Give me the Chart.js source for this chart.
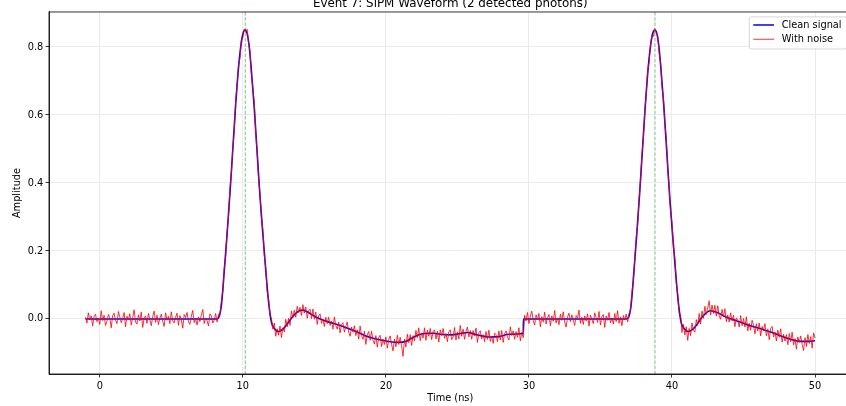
<!DOCTYPE html>
<html lang="en">
<head>
<meta charset="UTF-8">
<title>SiPM Waveform</title>
<script src="https://cdn.jsdelivr.net/npm/chart.js"></script>
<style>
  html, body { margin: 0; padding: 0; background: #fff; overflow: hidden; }
  body { width: 846px; height: 406px; position: relative; }
  /* plot runs a little past the right edge, as in the saved figure */
  .chart-box { position: absolute; left: 0; top: -10px; width: 870px; height: 416px; }
</style>
</head>
<body>
<div class="chart-box"><canvas id="waveChart"></canvas></div>
<script>
const xTicks = [0, 10, 20, 30, 40, 50];
const yTicks = [0, 0.2, 0.4, 0.6, 0.8];
const photonTimes = [10.17, 38.81];

// clean pulse shape (ns, amplitude)
const cleanTime = [
  -1, 8.2, 8.3, 8.5, 8.7, 8.9, 9.1, 9.3, 9.5, 9.7, 9.9, 10.05, 10.17, 10.3, 10.45,
  10.6, 10.8, 11.0, 11.2, 11.4, 11.6, 11.8, 12.0, 12.2, 12.5, 12.8, 13.1, 13.5, 14.0,
  14.2, 14.5, 15.0, 15.5, 16.3, 17.0, 17.8, 18.6, 19.4, 20.3, 20.8, 21.4, 22.1, 22.7,
  23.3, 24.0, 24.6, 25.2, 25.7, 26.4, 27.2, 27.9, 28.6, 29.6, 29.62,
  36.8, 36.94, 37.14, 37.34, 37.54, 37.74, 37.94, 38.14, 38.34, 38.54, 38.69, 38.81,
  38.94, 39.09, 39.24, 39.44, 39.64, 39.84, 40.04, 40.24, 40.44, 40.64, 40.84, 41.14,
  41.44, 41.75, 42.15, 42.7, 43.2, 43.8, 44.5, 45.2, 45.8, 46.5, 47.2, 47.8, 48.4,
  49.0, 49.5, 50.0
];
const cleanAmp = [
  0, 0, 0.003, 0.04, 0.14, 0.25, 0.37, 0.5, 0.63, 0.74, 0.815, 0.845, 0.85, 0.84, 0.8,
  0.73, 0.62, 0.49, 0.36, 0.25, 0.145, 0.05, -0.01, -0.028, -0.037, -0.03, -0.015, 0.008, 0.025,
  0.026, 0.021, 0.008, -0.002, -0.013, -0.022, -0.035, -0.05, -0.06, -0.067, -0.069, -0.066, -0.05, -0.043,
  -0.042, -0.046, -0.047, -0.043, -0.04, -0.047, -0.053, -0.052, -0.045, -0.043, 0,
  0, 0.003, 0.04, 0.14, 0.25, 0.37, 0.5, 0.63, 0.74, 0.815, 0.845, 0.85,
  0.84, 0.8, 0.73, 0.62, 0.49, 0.36, 0.25, 0.145, 0.05, -0.01, -0.028, -0.037,
  -0.031, -0.016, 0.008, 0.024, 0.018, 0.005, -0.005, -0.016, -0.024, -0.033, -0.043, -0.053, -0.061,
  -0.066, -0.066, -0.064
];

// noisy samples, one every 0.1 ns starting at -1 ns
const noiseStart = -1.0;
const noiseStep = 0.1;
const noisyAmp = [
  // -1.0 .. 8.2 ns: baseline
  0.005, -0.012, 0.018, -0.003, 0.009, -0.021, 0.007, 0.014, -0.008, 0.002,
  -0.016, 0.024, -0.005, 0.011, -0.019, -0.007, 0.013, 0.003, -0.026, 0.010,
  0.017, -0.004, -0.014, 0.022, 0.006, -0.011, 0.001, 0.019, -0.023, 0.008,
  -0.002, 0.015, -0.018, 0.004, 0.027, -0.009, -0.015, 0.012, -0.006, 0.020,
  -0.025, 0.003, 0.009, -0.013, 0.016, -0.001, -0.020, 0.007, 0.023, -0.010,
  0.011, -0.017, 0.002, 0.014, -0.007, -0.022, 0.018, -0.004, 0.008, -0.014,
  0.021, -0.006, -0.012, 0.005, 0.017, -0.019, 0.010, -0.003, -0.027, 0.013,
  0.004, 0.019, -0.009, -0.016, 0.008, 0.025, -0.011, 0.001, -0.018, 0.006,
  -0.008, 0.012, 0.028, -0.014, 0.003, -0.005, -0.021, 0.015, 0.009, -0.012,
  -0.004, 0.016, -0.009,
  // 8.3 .. 15.9 ns: first pulse and undershoot
  0.014, 0.011, 0.053, 0.081, 0.149, 0.183, 0.256,
  0.302, 0.384, 0.430, 0.503, 0.554, 0.646, 0.686, 0.749, 0.767, 0.822,
  0.827, 0.853, 0.843, 0.852, 0.812, 0.788, 0.716, 0.679, 0.637, 0.547,
  0.492, 0.413, 0.369, 0.299, 0.263, 0.187, 0.150, 0.080, 0.058, 0.011,
  0.002, -0.030, -0.012, -0.051, -0.029, -0.048, -0.021, -0.055, -0.026, -0.038,
  -0.001, -0.023, 0.002, -0.019, 0.024, 0.003, 0.026, 0.005, 0.037, 0.019,
  0.034, 0.010, 0.042, 0.017, 0.035, 0.002, 0.024, 0.029, 0.001, 0.029,
  -0.001, 0.020, -0.016, 0.009, 0.015, -0.013, -0.001, -0.022, 0.005, -0.014,
  // 16.0 .. 29.6 ns: slow tail
  0.005, -0.019, -0.006, -0.030, 0.006, -0.020, -0.030, -0.009, -0.041, -0.016,
  -0.011, -0.039, -0.022, -0.009, -0.038, -0.051, -0.024, -0.039, -0.020, -0.049,
  -0.032, -0.059, -0.021, -0.049, -0.060, -0.036, -0.075, -0.047, -0.037, -0.063,
  -0.036, -0.063, -0.074, -0.049, -0.083, -0.055, -0.048, -0.081, -0.060, -0.075,
  -0.053, -0.086, -0.061, -0.050, -0.075, -0.094, -0.059, -0.082, -0.048, -0.075,
  -0.054, -0.079, -0.110, -0.059, -0.083, -0.045, -0.070, -0.046, -0.078, -0.049,
  -0.065, -0.034, -0.055, -0.026, -0.064, -0.041, -0.056, -0.026, -0.063, -0.033,
  -0.051, -0.028, -0.061, -0.037, -0.032, -0.059, -0.036, -0.068, -0.032, -0.049,
  -0.028, -0.057, -0.043, -0.067, -0.038, -0.032, -0.061, -0.053, -0.025, -0.062,
  -0.038, -0.059, -0.019, -0.051, -0.030, -0.060, -0.037, -0.024, -0.053, -0.034,
  -0.060, -0.034, -0.050, -0.027, -0.069, -0.041, -0.035, -0.059, -0.046, -0.067,
  -0.037, -0.060, -0.033, -0.066, -0.051, -0.072, -0.042, -0.046, -0.067, -0.035,
  -0.062, -0.034, -0.069, -0.043, -0.035, -0.054, -0.062, -0.023, -0.049, -0.035,
  -0.060, -0.037, -0.054, -0.026, -0.065, -0.039, -0.055,
  // 29.7 .. 36.9 ns: baseline
  0.011, -0.006, 0.019,
  -0.014, 0.008, 0.023, -0.005, -0.018, 0.012, -0.002, 0.016, -0.023, 0.007,
  -0.009, 0.020, -0.015, 0.004, 0.013, -0.020, 0.009, -0.007, 0.025, -0.012,
  0.003, -0.017, 0.014, -0.004, 0.021, -0.010, -0.024, 0.006, 0.017, -0.008,
  0.012, -0.003, -0.019, 0.010, 0.002, 0.026, -0.013, 0.005, -0.016, 0.009,
  -0.006, 0.015, -0.021, 0.011, -0.001, -0.014, 0.018, 0.004, -0.010, 0.022,
  -0.018, 0.007, 0.013, -0.025, 0.009, -0.004, 0.019, -0.011, 0.003, -0.015,
  0.016, -0.008, 0.024, -0.013, 0.006, -0.020, 0.010, -0.002, 0.014, -0.009,
  // 37.0 .. 50.0 ns: second pulse and tail
  0.016, 0.025, 0.077, 0.110, 0.178, 0.240, 0.277, 0.353, 0.406, 0.485,
  0.532, 0.613, 0.661, 0.732, 0.754, 0.807, 0.836, 0.831, 0.854, 0.841,
  0.835, 0.782, 0.755, 0.683, 0.652, 0.577, 0.531, 0.443, 0.389, 0.315,
  0.283, 0.211, 0.180, 0.106, 0.074, 0.016, 0.013, -0.040, -0.016, -0.047,
  -0.023, -0.063, -0.028, -0.049, -0.012, -0.033, -0.039, -0.002, -0.019, 0.016,
  -0.015, 0.023, 0.002, 0.037, 0.013, 0.033, 0.053, 0.011, 0.041, 0.016,
  0.040, 0.008, 0.039, 0.009, -0.001, 0.028, 0.006, 0.030, -0.008, 0.012,
  -0.009, 0.018, -0.006, 0.011, -0.023, 0.003, -0.004, -0.024, 0.010, -0.020,
  0.001, -0.024, 0.006, -0.035, -0.013, -0.033, -0.004, -0.018, -0.044, -0.014,
  -0.035, -0.012, -0.050, -0.022, -0.035, -0.014, -0.050, -0.029, -0.061, -0.027,
  -0.022, -0.053, -0.039, -0.065, -0.033, -0.054, -0.029, -0.068, -0.045, -0.065,
  -0.046, -0.076, -0.043, -0.067, -0.039, -0.076, -0.058, -0.089, -0.053, -0.069,
  -0.050, -0.075, -0.093, -0.055, -0.081, -0.046, -0.072, -0.052, -0.086, -0.041,
  -0.056
];

const FONT = 'DejaVu Sans';

const cleanPoints = cleanTime.map((t, i) => ({ x: t, y: cleanAmp[i] }));
const noisyPoints = noisyAmp.map((v, i) => ({ x: +(noiseStart + i * noiseStep).toFixed(2), y: v }));

// dashed markers at photon arrival times, axes frame and the legend box
const overlay = {
  id: 'overlay',
  afterDatasetsDraw(chart) {
    const { ctx, chartArea: a, scales } = chart;
    ctx.save();
    ctx.strokeStyle = 'rgba(0,128,0,0.5)';
    ctx.lineWidth = 1;
    ctx.setLineDash([3.6, 1.6]);
    photonTimes.forEach(t => {
      const px = scales.x.getPixelForValue(t);
      ctx.beginPath();
      ctx.moveTo(px, a.top);
      ctx.lineTo(px, a.bottom);
      ctx.stroke();
    });
    ctx.restore();
  },
  afterDraw(chart) {
    const { ctx, chartArea: a } = chart;
    ctx.save();
    ctx.strokeStyle = '#000';
    ctx.lineWidth = 0.8;
    ctx.strokeRect(a.left, a.top, a.right - a.left, a.bottom - a.top);

    // legend, upper right
    const w = 97.3, h = 32.1;
    const lx = a.right - 4.9 - w, ly = a.top + 4.9;
    ctx.fillStyle = 'rgba(255,255,255,0.8)';
    ctx.strokeStyle = '#cccccc';
    ctx.lineWidth = 0.8;
    ctx.beginPath();
    ctx.roundRect(lx, ly, w, h, 2);
    ctx.fill();
    ctx.stroke();

    const rows = [
      { label: 'Clean signal', color: '#0000ff', width: 1.5, dy: 8.1 },
      { label: 'With noise', color: 'rgba(255,0,0,0.8)', width: 1, dy: 22.4 }
    ];
    ctx.font = '9.8px "' + FONT + '"';
    ctx.textBaseline = 'middle';
    rows.forEach(r => {
      ctx.strokeStyle = r.color;
      ctx.lineWidth = r.width;
      ctx.beginPath();
      ctx.moveTo(lx + 4, ly + r.dy);
      ctx.lineTo(lx + 24.7, ly + r.dy);
      ctx.stroke();
      ctx.fillStyle = '#000';
      ctx.fillText(r.label, lx + 32.4, ly + r.dy);
    });
    ctx.restore();
  }
};

new Chart(document.getElementById('waveChart'), {
  type: 'line',
  data: {
    datasets: [
      {
        label: 'With noise',
        data: noisyPoints,
        borderColor: 'rgba(255,0,0,0.8)',
        borderWidth: 1,
        pointRadius: 0,
        tension: 0
      },
      {
        label: 'Clean signal',
        data: cleanPoints,
        borderColor: '#0000ff',
        borderWidth: 1.6,
        pointRadius: 0,
        cubicInterpolationMode: 'monotone'
      }
    ]
  },
  options: {
    responsive: true,
    maintainAspectRatio: false,
    animation: false,
    layout: { padding: { left: 0, right: 18.5, top: 0, bottom: 0 } },
    plugins: {
      legend: { display: false },
      tooltip: { enabled: false },
      title: {
        display: true,
        fullSize: false,
        text: 'Event 7: SiPM Waveform (2 detected photons)',
        color: '#000',
        font: { family: FONT, size: 11.9, weight: 'normal', lineHeight: 1.2 },
        padding: { top: 6.6, bottom: 1.1 }
      }
    },
    scales: {
      x: {
        type: 'linear',
        min: -3.55,
        max: 52.55,
        afterBuildTicks: scale => { scale.ticks = xTicks.map(v => ({ value: v })); },
        afterFit: scale => { scale.height = 32; },
        ticks: {
          color: '#000',
          font: { family: FONT, size: 9.8 },
          padding: 3.5,
          maxRotation: 0,
          callback: v => String(v)
        },
        grid: { color: '#ebebeb', lineWidth: 1, tickColor: '#000', tickLength: 3.5, tickWidth: 0.8 },
        border: { color: '#000', width: 0.8 },
        title: {
          display: true,
          text: 'Time (ns)',
          color: '#000',
          font: { family: FONT, size: 9.8 },
          padding: { top: 0, bottom: 1.6 }
        }
      },
      y: {
        min: -0.162,
        max: 0.903,
        afterBuildTicks: scale => { scale.ticks = yTicks.map(v => ({ value: v })); },
        afterFit: scale => { scale.width = 49; },
        ticks: {
          color: '#000',
          font: { family: FONT, size: 9.8 },
          padding: 2.2,
          callback: v => v.toFixed(1)
        },
        grid: { color: '#ebebeb', lineWidth: 1, tickColor: '#000', tickLength: 3.5, tickWidth: 0.8 },
        border: { color: '#000', width: 0.8 },
        title: {
          display: true,
          text: 'Amplitude',
          color: '#000',
          font: { family: FONT, size: 9.8 },
          padding: { top: 11.6, bottom: 0 }
        }
      }
    }
  },
  plugins: [overlay]
});
</script>
</body>
</html>
